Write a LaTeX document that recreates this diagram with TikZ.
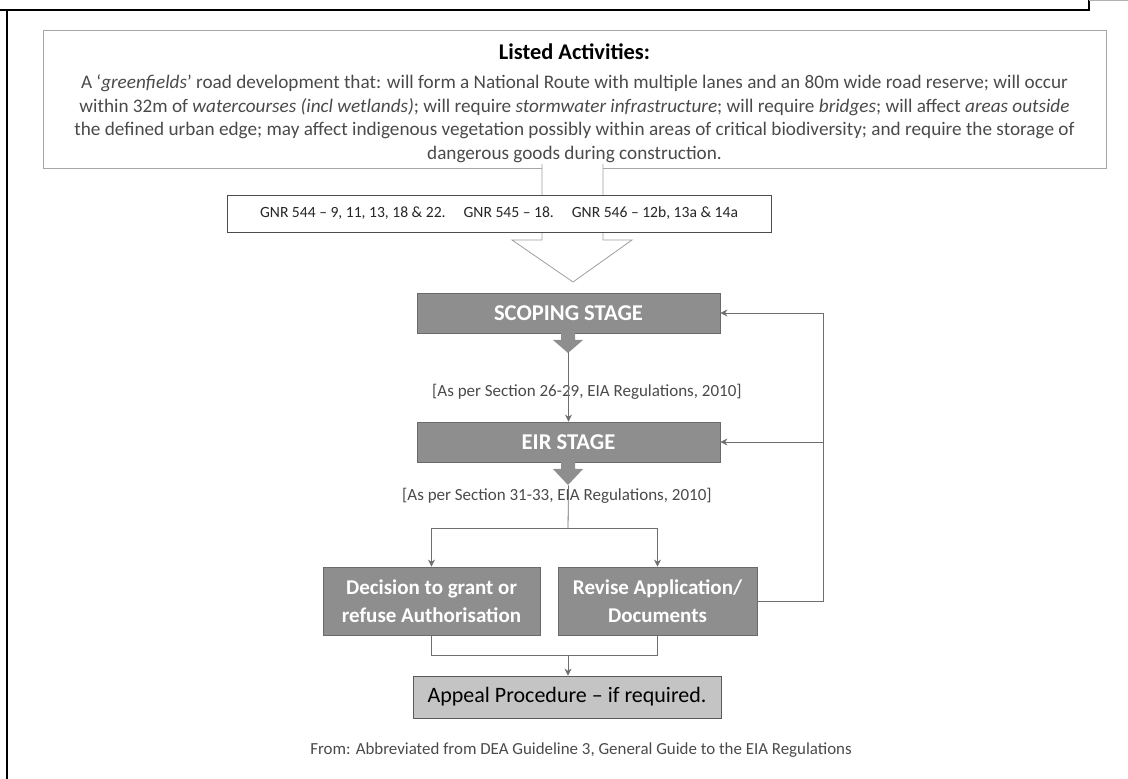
\documentclass[tikz,border=0pt]{standalone}
\usepackage{fontspec}
\setmainfont{Carlito}
\usetikzlibrary{positioning,arrows.meta}
\definecolor{stagegray}{HTML}{8E8E8E}
\definecolor{appealgray}{HTML}{C4C4C4}
\definecolor{linegray}{HTML}{6E6E6E}
\definecolor{textgray}{HTML}{4A4A4A}

\begin{document}
\begin{tikzpicture}[x=0.5pt,y=-0.5pt,
    stagebox/.style={draw=stagegray!75!black, fill=stagegray, text=white, inner sep=0pt,
        align=center, font=\bfseries\fontsize{10.5}{14}\selectfont},
    flow/.style={draw=linegray, line width=0.4pt, -{Stealth[length=3.5pt,width=3.5pt]}},
    link/.style={draw=linegray, line width=0.4pt},
    note/.style={text=textgray, font=\fontsize{8.5}{10}\selectfont, inner sep=0pt}]
    \useasboundingbox (0,0) rectangle (1128,779);

    % Page frame
    \draw[line width=1pt] (0,10) -- (1089,10) -- (1089,0);
    \draw[gray!60, line width=0.5pt] (1089,1) -- (1128,1);
    \draw[line width=1pt] (7,10) -- (7,779);

    % Listed activities
    \node[draw=gray!70, line width=0.4pt, minimum width=531.5pt, minimum height=69pt, inner sep=0pt]
        (list) at (574.5,99) {};
    \node[align=center, text=textgray, inner sep=0pt, font=\fontsize{9.6}{11.75}\selectfont]
        (activities) at (574.5,103)
        {{\color{black}\bfseries\fontsize{11.2}{11}\selectfont Listed Activities:}\\[3pt]
        A `\textit{greenfields}' road development that: will form a National Route with multiple lanes and an 80m wide road reserve; will occur\\
        within 32m of \textit{watercourses (incl wetlands)}; will require \textit{stormwater infrastructure}; will require \textit{bridges}; will affect \textit{areas outside}\\
        the defined urban edge; may affect indigenous vegetation possibly within areas of critical biodiversity; and require the storage of\\
        dangerous goods during construction.};

    % Hollow arrow from the activities down to the scoping stage
    \draw[gray!75, fill=white, line width=0.4pt] (542,164) -- (542,240) -- (512,240) -- (573,282)
        -- (632,240) -- (603,240) -- (603,164);

    % Government notice regulations
    \node[draw=black!70, fill=white, line width=0.4pt, minimum width=272pt, minimum height=18.5pt,
        inner sep=0pt, font=\fontsize{7.8}{10}\selectfont, text=black!85]
        (gnr) at (499,213.5)
        {GNR 544 -- 9, 11, 13, 18 \& 22.\hspace{9pt}GNR 545 -- 18.\hspace{9pt}GNR 546 -- 12b, 13a \& 14a};

    % Stages
    \node[stagebox, minimum width=151.5pt, minimum height=20pt, font=\bfseries\fontsize{11.3}{14}\selectfont]
        (scoping) at (568.5,313) {SCOPING STAGE};
    \node[stagebox, minimum width=151.5pt, minimum height=20pt, font=\bfseries\fontsize{11.3}{14}\selectfont]
        (eir) at (568.5,442) {EIR STAGE};
    \node[note, anchor=east] (sec1) at (742,392) {[As per Section 26-29, EIA Regulations, 2010]};
    \node[note, anchor=east] (sec2) at (712,496) {[As per Section 31-33, EIA Regulations, 2010]};

    \node[stagebox, minimum width=108.5pt, minimum height=34pt] (decision) at (431.5,601)
        {Decision to grant or\\refuse Authorisation};
    \node[stagebox, minimum width=99.5pt, minimum height=34pt] (revise) at (657.5,601)
        {Revise Application/\\Documents};

    \node[draw=gray!70!black, fill=appealgray, line width=0.4pt, minimum width=154pt, minimum height=21pt,
        inner sep=0pt, font=\fontsize{11}{13}\selectfont] (appeal) at (567,697) {Appeal Procedure -- if required.};

    \node[note, font=\fontsize{8.45}{10}\selectfont] (source) at (581,750)
        {From: Abbreviated from DEA Guideline 3, General Guide to the EIA Regulations};

    % Small block arrows below the stages
    \fill[stagegray] (561,333) -- (561,340) -- (553,340) -- (568,353) -- (583,340) -- (575,340) -- (575,333) -- cycle;
    \fill[stagegray] (561,462) -- (561,469) -- (553,469) -- (568,485) -- (583,469) -- (575,469) -- (575,462) -- cycle;

    % Connectors
    \draw[flow] (scoping.south) ++(0,19) -- (eir.north);
    \coordinate (split) at (568,528);
    \draw[link] (eir.south) ++(0,23) -- (split);
    \draw[flow] (split) -| (decision.north);
    \draw[flow] (split) -| (revise.north);

    \coordinate (join) at (568,655);
    \draw[link] (decision.south) |- (join);
    \draw[link] (revise.south) |- (join);
    \draw[flow] (join) -- (join |- appeal.north);

    % Feedback to the stages
    \draw[flow] (revise.east) -- ++(66,0) coordinate (back) |- (scoping.east);
    \draw[flow] (back |- eir.east) -- (eir.east);
\end{tikzpicture}
\end{document}
